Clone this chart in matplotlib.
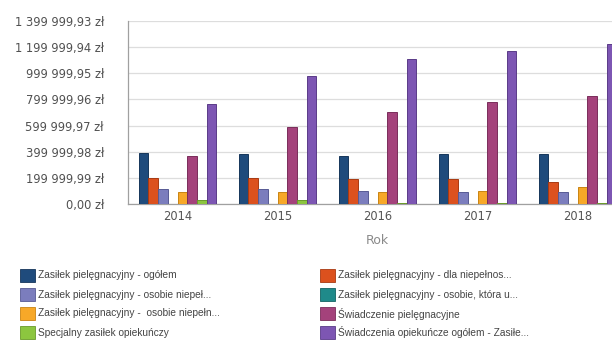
import matplotlib
matplotlib.use("Agg")
import matplotlib.pyplot as plt
from matplotlib.patches import Rectangle
import numpy as np

years = ["2014", "2015", "2016", "2017", "2018"]

series_names = [
    "Zasiłek pielęgnacyjny - ogółem",
    "Zasiłek pielęgnacyjny - dla niepełnos...",
    "Zasiłek pielęgnacyjny - osobie niepeł...",
    "Zasiłek pielęgnacyjny - osobie, która u...",
    "Zasiłek pielęgnacyjny -  osobie niepełn...",
    "Świadczenie pielęgnacyjne",
    "Specjalny zasiłek opiekuńczy",
    "Świadczenia opiekuńcze ogółem - Zasiłe...",
]

ogolem = [393000, 381000, 367000, 380000, 381000]
dla_niepelnosprawnego = [201000, 201000, 190000, 191000, 166000]
osobie_niepel_a = [112000, 112000, 100000, 90000, 90000]
osobie_ktora = [0, 0, 0, 0, 0]
osobie_niepel_b = [92000, 92000, 89000, 102000, 128000]
swiadczenie = [367000, 592000, 704000, 780000, 829000]
specjalny = [30000, 27000, 10000, 8000, 8000]
opiekuncze_ogolem = [767000, 979000, 1107000, 1171000, 1222000]

values = [ogolem, dla_niepelnosprawnego, osobie_niepel_a, osobie_ktora,
          osobie_niepel_b, swiadczenie, specjalny, opiekuncze_ogolem]

colors = ["#1f4b7c", "#dc511e", "#7b7dbd", "#1f8a8a",
          "#f7a828", "#a4427b", "#8cc63f", "#7d56b3"]
edges = ["#16365a", "#a83a12", "#575a94", "#146262",
         "#c98412", "#7a2d5a", "#6a9a2a", "#5a3b88"]

y_ticks = [0.00, 199999.99, 399999.98, 599999.97, 799999.96,
           999999.95, 1199999.94, 1399999.93]


def fmt_pln(v):
    s = f"{v:,.2f}"
    s = s.replace(",", " ").replace(".", ",")
    return s + " zł"


W, H = 612, 342
fig = plt.figure(figsize=(W / 100, H / 100), dpi=100)
fig.patch.set_facecolor("white")

left, right, top, bottom = 127.5, 627.5, 21, 204
ax = fig.add_axes([left / W, 1 - bottom / H, (right - left) / W, (bottom - top) / H])
ax.set_facecolor("white")

n = len(values)
bw = 0.097
x = np.arange(len(years))
for j, (vals, c, ec) in enumerate(zip(values, colors, edges)):
    ax.bar(x + (j - (n - 1) / 2) * bw, vals, width=bw, color=c,
           edgecolor=ec, linewidth=0.7, zorder=3)

ax.set_xlim(-0.5, len(years) - 0.5)
ax.set_ylim(0, y_ticks[-1])
ax.set_yticks(y_ticks)
ax.set_yticklabels([fmt_pln(v) for v in y_ticks])
ax.set_xticks(x)
ax.set_xticklabels(years)

ax.grid(axis="y", color="#dddddd", linewidth=0.9, zorder=0)
ax.set_axisbelow(True)
for s in ["top", "right"]:
    ax.spines[s].set_visible(False)
for s in ["left", "bottom"]:
    ax.spines[s].set_color("#a0a0a0")
    ax.spines[s].set_linewidth(0.9)

ax.tick_params(axis="y", length=0, pad=17, labelsize=8.3, labelcolor="#505050")
ax.tick_params(axis="x", length=0, pad=4, labelsize=8.3, labelcolor="#555555")
for t in ax.get_yticklabels() + ax.get_xticklabels():
    t.set_fontfamily("DejaVu Sans")

ax.set_xlabel("Rok", fontsize=9, color="#8a8a8a", labelpad=8)

# Legend drawn in two columns, row-major order
col_x = [20, 320]
row_y = [275.5, 294.5, 313.5, 332.5]
sq_w, sq_h = 15, 13
for j, name in enumerate(series_names):
    cx = col_x[j % 2]
    cy = row_y[j // 2]
    fig.patches.append(Rectangle((cx / W, 1 - (cy + sq_h / 2) / H), sq_w / W, sq_h / H,
                                 transform=fig.transFigure, facecolor=colors[j],
                                 edgecolor=edges[j], linewidth=0.6))
    fig.text((cx + sq_w + 3) / W, 1 - cy / H, name, fontsize=7.3,
             family="Liberation Sans", color="#444444", va="center", ha="left")

fig.savefig("out.png", dpi=100, facecolor="white")
